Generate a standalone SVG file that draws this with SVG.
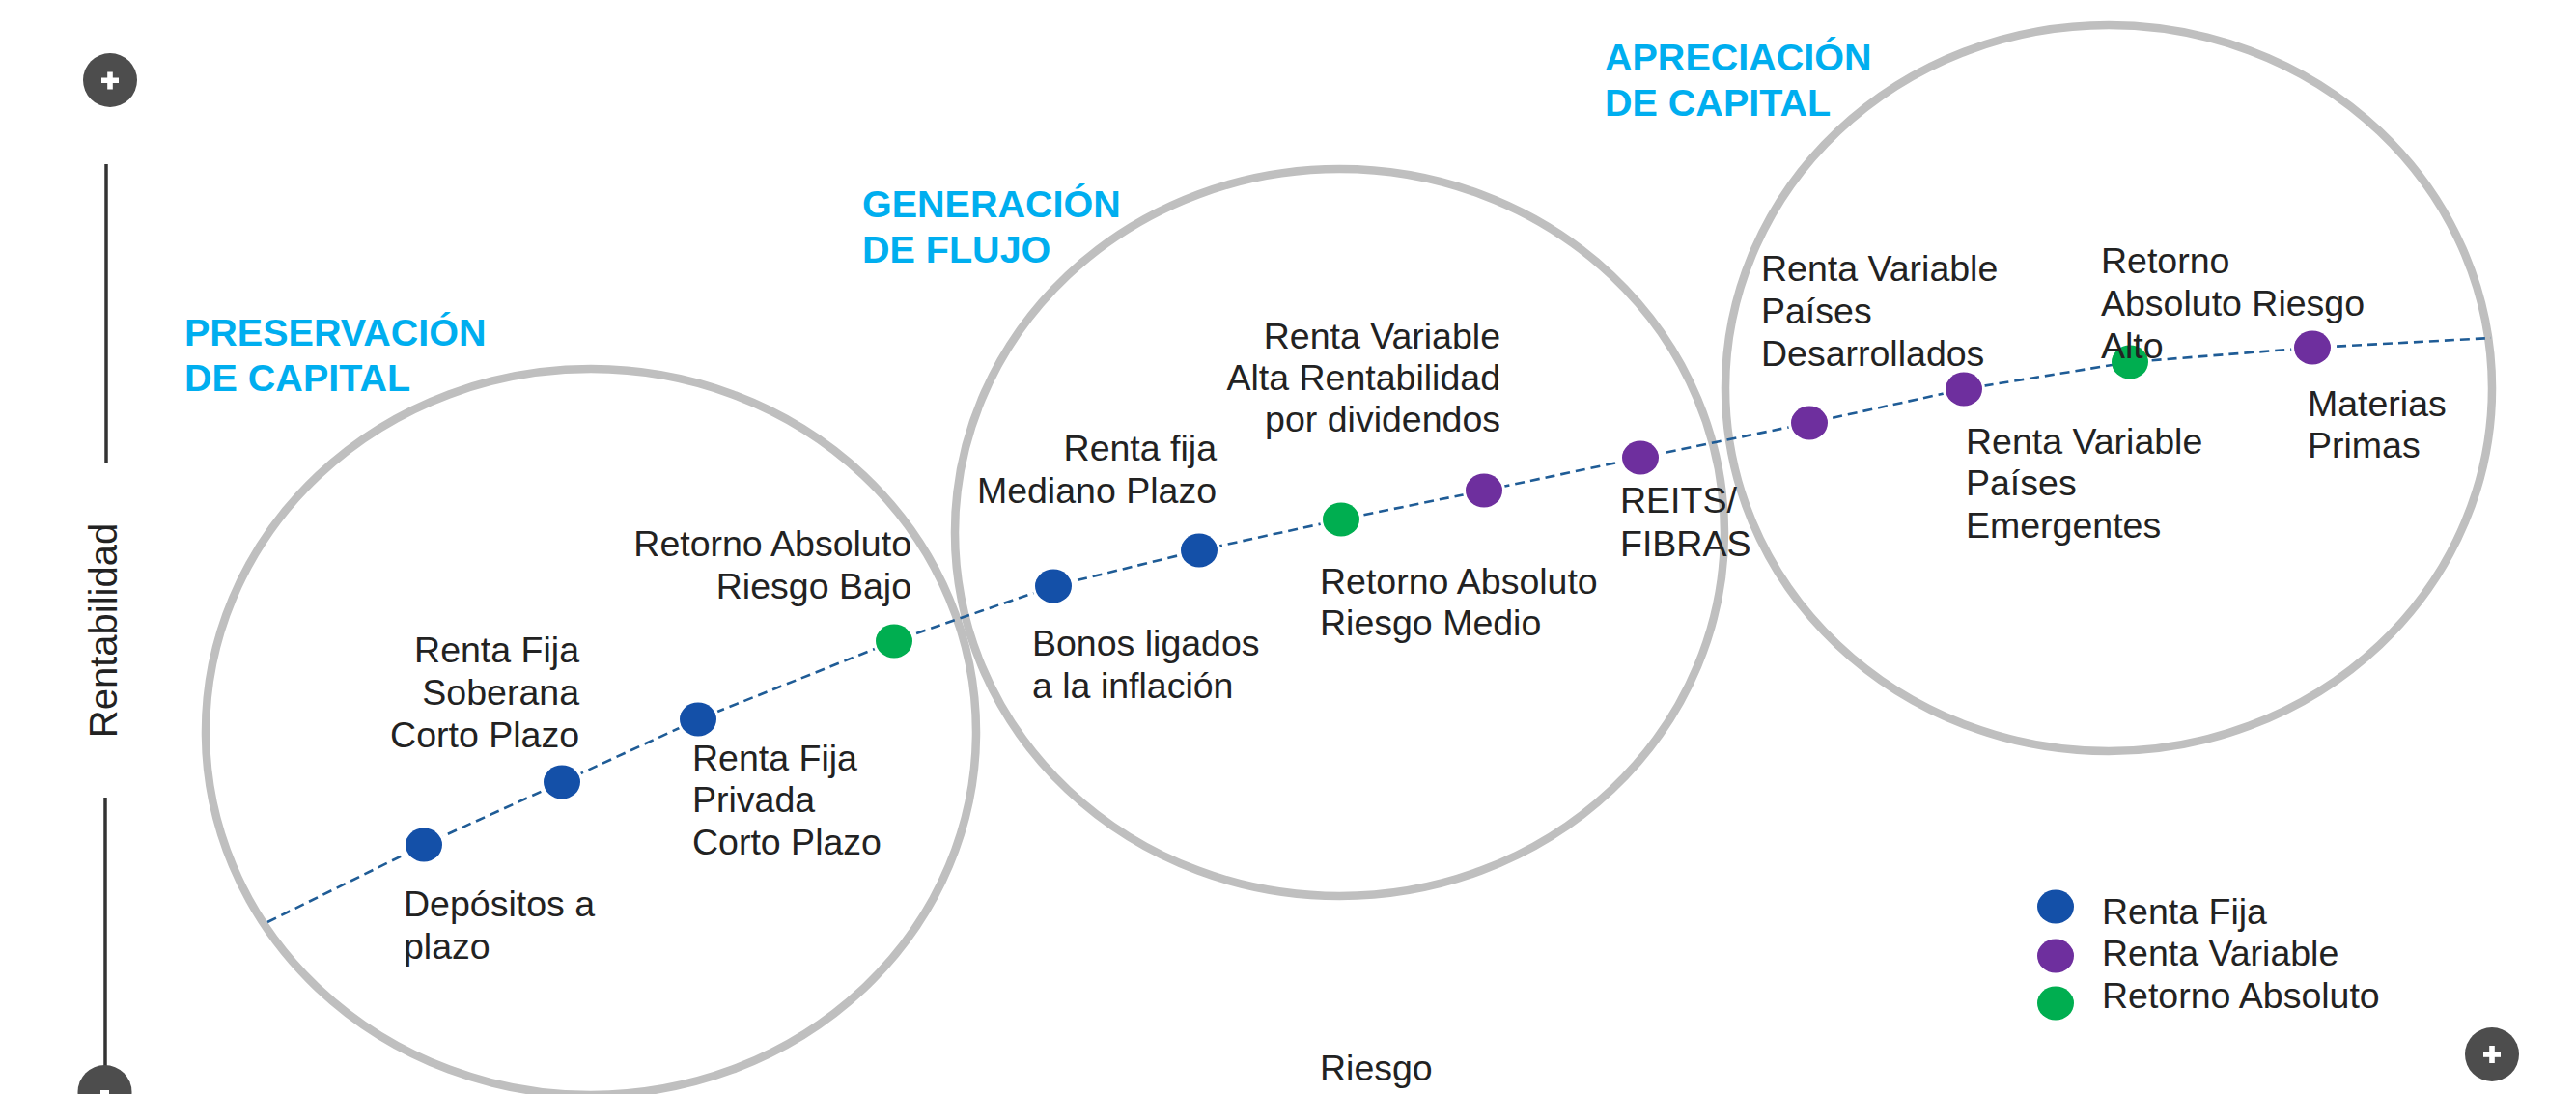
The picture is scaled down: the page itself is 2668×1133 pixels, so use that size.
<svg xmlns="http://www.w3.org/2000/svg" width="2668" height="1133" viewBox="0 0 2668 1133">
<style>
.bg{fill:#ffffff}
.zone{fill:none;stroke:#BFBFBF;stroke-width:8.5}
.title{font-family:"Liberation Sans",Arial,sans-serif;font-weight:bold;font-size:39.5px;fill:#00AEEF}
.lbl{font-family:"Liberation Sans",Arial,sans-serif;font-size:37.5px;fill:#222222}
.end{text-anchor:end}
.axis{stroke:#333333;stroke-width:3.5}
.btn{fill:#4D4D4D}
.dot{stroke:#ffffff;stroke-width:6;paint-order:stroke}
.rf{fill:#1450A8}
.rv{fill:#6E2F9E}
.ra{fill:#00AE50}
.trend{fill:none;stroke:#1F5C96;stroke-width:2.6;stroke-dasharray:10 6}
</style>
<rect class="bg" x="0" y="0" width="2668" height="1133"/>

<g id="axis-y">
  <line class="axis" x1="110" y1="170" x2="110" y2="479"/>
  <line class="axis" x1="109" y1="826" x2="109" y2="1106"/>
  <text class="lbl" transform="translate(121,653) rotate(-90)" text-anchor="middle" style="font-size:40px">Rentabilidad</text>
  <circle class="btn" cx="114" cy="83" r="28"/>
  <rect x="105" y="80.5" width="18" height="5.5" fill="#ffffff"/>
  <rect x="111.2" y="74.5" width="5.6" height="18" fill="#ffffff"/>
  <circle class="btn" cx="108.5" cy="1131" r="28"/>
  <rect x="104" y="1129" width="9" height="6" fill="#ffffff"/>
</g>

<g id="axis-x">
  <text class="lbl" x="1367" y="1119">Riesgo</text>
  <circle class="btn" cx="2581" cy="1092" r="28"/>
  <rect x="2572" y="1089.2" width="18" height="5.6" fill="#ffffff"/>
  <rect x="2578.2" y="1083" width="5.6" height="18" fill="#ffffff"/>
</g>

<g id="zone-preservacion">
  <ellipse class="zone" cx="612" cy="758" rx="399" ry="376"/>
  <text class="title" x="191" y="358">PRESERVACIÓN</text>
  <text class="title" x="191" y="405">DE CAPITAL</text>
</g>
<g id="zone-generacion">
  <ellipse class="zone" cx="1387.5" cy="551.5" rx="398.5" ry="376.5"/>
  <text class="title" x="893" y="225">GENERACIÓN</text>
  <text class="title" x="893" y="272">DE FLUJO</text>
</g>
<g id="zone-apreciacion">
  <ellipse class="zone" cx="2184" cy="402" rx="397" ry="376"/>
  <text class="title" x="1662" y="73">APRECIACIÓN</text>
  <text class="title" x="1662" y="120">DE CAPITAL</text>
</g>

<g id="connectors">
  <path class="trend" d="M277,955 L439,875 L582,810 L723,745 L926,664 L1091,607 L1242,570 L1389,538 L1537,508 L1699,474 L1874,438 L2034,403 L2206,375 L2395,360 L2580,350"/>
</g>

<g id="depositos">
  <ellipse class="dot rf" cx="439" cy="875" rx="19" ry="17.5"/>
  <text class="lbl" x="418" y="949">Depósitos a</text>
  <text class="lbl" x="418" y="993">plazo</text>
</g>
<g id="rf-soberana">
  <ellipse class="dot rf" cx="582" cy="810" rx="19" ry="17.5"/>
  <text class="lbl end" x="600" y="686">Renta Fija</text>
  <text class="lbl end" x="600" y="730">Soberana</text>
  <text class="lbl end" x="600" y="774">Corto Plazo</text>
</g>
<g id="rf-privada">
  <ellipse class="dot rf" cx="723" cy="745" rx="19" ry="17.5"/>
  <text class="lbl" x="717" y="798">Renta Fija</text>
  <text class="lbl" x="717" y="841">Privada</text>
  <text class="lbl" x="717" y="885">Corto Plazo</text>
</g>
<g id="ra-bajo">
  <ellipse class="dot ra" cx="926" cy="664" rx="19" ry="17.5"/>
  <text class="lbl end" x="944" y="576">Retorno Absoluto</text>
  <text class="lbl end" x="944" y="620">Riesgo Bajo</text>
</g>
<g id="bonos">
  <ellipse class="dot rf" cx="1091" cy="607" rx="19" ry="17.5"/>
  <text class="lbl" x="1069" y="679">Bonos ligados</text>
  <text class="lbl" x="1069" y="723">a la inflación</text>
</g>
<g id="rf-mediano">
  <ellipse class="dot rf" cx="1242" cy="570" rx="19" ry="17.5"/>
  <text class="lbl end" x="1260" y="477">Renta fija</text>
  <text class="lbl end" x="1260" y="521">Mediano Plazo</text>
</g>
<g id="ra-medio">
  <ellipse class="dot ra" cx="1389" cy="538" rx="19" ry="17.5"/>
  <text class="lbl" x="1367" y="615">Retorno Absoluto</text>
  <text class="lbl" x="1367" y="658">Riesgo Medio</text>
</g>
<g id="rv-dividendos">
  <ellipse class="dot rv" cx="1537" cy="508" rx="19" ry="17.5"/>
  <text class="lbl end" x="1554" y="361">Renta Variable</text>
  <text class="lbl end" x="1554" y="404">Alta Rentabilidad</text>
  <text class="lbl end" x="1554" y="447">por dividendos</text>
</g>
<g id="reits">
  <ellipse class="dot rv" cx="1699" cy="474" rx="19" ry="17.5"/>
  <text class="lbl" x="1678" y="531">REITS/</text>
  <text class="lbl" x="1678" y="576">FIBRAS</text>
</g>
<g id="rv-desarrollados">
  <ellipse class="dot rv" cx="1874" cy="438" rx="19" ry="17.5"/>
  <text class="lbl" x="1824" y="291">Renta Variable</text>
  <text class="lbl" x="1824" y="335">Países</text>
  <text class="lbl" x="1824" y="379">Desarrollados</text>
</g>
<g id="rv-emergentes">
  <ellipse class="dot rv" cx="2034" cy="403" rx="19" ry="17.5"/>
  <text class="lbl" x="2036" y="470">Renta Variable</text>
  <text class="lbl" x="2036" y="513">Países</text>
  <text class="lbl" x="2036" y="557">Emergentes</text>
</g>
<g id="ra-alto">
  <text class="lbl" x="2176" y="283">Retorno</text>
  <text class="lbl" x="2176" y="327">Absoluto Riesgo</text>
  <ellipse class="dot ra" cx="2206" cy="375" rx="19" ry="17.5" style="stroke:none"/>
  <text class="lbl" x="2176" y="371">Alto</text>
</g>
<g id="materias-primas">
  <ellipse class="dot rv" cx="2395" cy="360" rx="19" ry="17.5"/>
  <text class="lbl" x="2390" y="431">Materias</text>
  <text class="lbl" x="2390" y="474">Primas</text>
</g>

<g id="legend">
  <ellipse class="rf" cx="2129" cy="939" rx="19" ry="17.5"/>
  <text class="lbl" x="2177" y="957">Renta Fija</text>
  <ellipse class="rv" cx="2129" cy="990" rx="19" ry="17.5"/>
  <text class="lbl" x="2177" y="1000">Renta Variable</text>
  <ellipse class="ra" cx="2129" cy="1039" rx="19" ry="17.5"/>
  <text class="lbl" x="2177" y="1044">Retorno Absoluto</text>
</g>
</svg>
